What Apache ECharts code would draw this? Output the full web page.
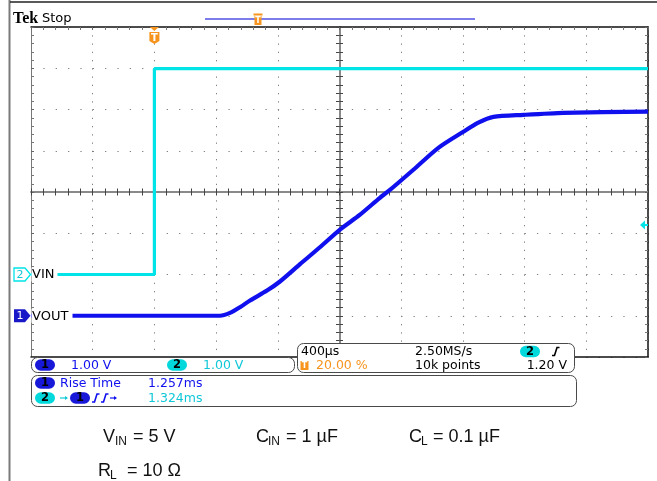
<!DOCTYPE html>
<html><head><meta charset="utf-8">
<script src="https://cdn.jsdelivr.net/npm/echarts@6.0.0/dist/echarts.min.js"></script>
<style>html,body{margin:0;padding:0;background:#fff}#c{width:657px;height:481px}</style>
</head><body><div id="c"></div>
<script>
// Time base (µs): 400 µs/div, 10 divisions, trigger at 20 %
const timeRange = [-800, 3200];
const timeStep = 400;
// CH1 VOUT (V), 1 V/div
const voutTime = [-800, 0, 300, 425, 490, 560, 620, 730, 814, 944, 1073, 1203, 1333, 1462, 1527, 1679, 1841, 2003, 2100, 2198, 2392, 2652, 3200];
const voutVolt = [0, 0, 0, 0, 0.07, 0.22, 0.37, 0.61, 0.83, 1.25, 1.66, 2.09, 2.45, 2.86, 3.05, 3.54, 4.07, 4.46, 4.68, 4.82, 4.87, 4.92, 4.95];
// CH2 VIN (V), 1 V/div
const vinTime = [-800, 0, 0, 3200];
const vinVolt = [0, 0, 4.99, 4.99];
// vertical ranges (divisions in volts) for each channel
const ch1Range = [-1, 7];
const ch2Range = [-2, 6];
const trigLevel = 1.2;
// readouts
const chScale = ['1.00 V', '1.00 V'];
const horizReadout = ['400µs', '2.50MS/s', '10k points', '20.00 %', '1.20 V'];
const measLabels = ['Rise Time', '1.257ms', '1.324ms'];
const chNames = ['VOUT', 'VIN'];
const notes = [['V', 'IN', ' = 5 V'], ['C', 'IN', ' = 1 µF'], ['C', 'L', ' = 0.1 µF'], ['R', 'L', '  = 10 Ω']];

const BLUE = '#1010ee', CYAN = '#00e4e8', ORANGE = '#f7941d', CYANTXT = '#10c8d8';
const FONT = '"DejaVu Sans", sans-serif';
const chart = echarts.init(document.getElementById('c'), null, {renderer: 'canvas'});

const X = {type: 'value', min: timeRange[0], max: timeRange[1], interval: timeStep};
const noLbl = {show: false};
const ghostLbl = {show: true, formatter: () => '', fontSize: 1, margin: 0, color: 'rgba(0,0,0,0)'};
function xAx(extra) {
  return Object.assign({}, X, {axisLabel: noLbl, splitLine: {show: false}, axisTick: {show: false}}, extra);
}
function yAx(r, extra) {
  return Object.assign({type: 'value', min: r[0], max: r[1], interval: 1, axisLabel: noLbl, splitLine: {show: false}, axisTick: {show: false}}, extra);
}
const minorIn = (len, col) => ({show: true, splitNumber: 5, length: len, lineStyle: {color: col, width: 1}});
const tk = (inside, len, col) => ({show: true, inside: inside, length: len, lineStyle: {color: col, width: 1}});

const option = {
  animation: false,
  backgroundColor: '#fff',
  grid: {left: 31, top: 27, width: 617, height: 330, containLabel: false, outerBoundsMode: 'none'},
  xAxis: [
    xAx({position: 'bottom', axisLine: {show: true, onZero: false, lineStyle: {color: '#111', width: 1.5}},
      splitLine: {show: true, lineStyle: {color: '#808080', width: 1, type: [1.3, 6.95]}}}),
    xAx({position: 'top', axisLine: {show: true, onZero: false, lineStyle: {color: '#111', width: 1.5}}, axisLabel: ghostLbl,
      axisTick: tk(true, 3, '#666'), minorTick: minorIn(3, '#777')}),
    xAx({position: 'bottom', offset: -165, axisLine: {show: true, onZero: false, lineStyle: {color: '#8a8a8a', width: 2}}, axisLabel: ghostLbl,
      axisTick: tk(true, 3.5, '#444'), minorTick: minorIn(3.5, '#444')}),
    xAx({position: 'bottom', offset: -165, axisLine: {show: false, onZero: false}, axisLabel: ghostLbl,
      axisTick: tk(false, 3.5, '#444'), minorTick: minorIn(3.5, '#444')})
  ],
  yAxis: [
    yAx(ch1Range, {position: 'left', axisLine: {show: true, onZero: false, lineStyle: {color: '#777', width: 1}}, axisLabel: ghostLbl,
      axisTick: tk(true, 3, '#666'), minorTick: minorIn(3, '#777'),
      splitLine: {show: true, lineStyle: {color: '#808080', width: 1, type: [1.3, 11.04]}}}),
    yAx(ch2Range, {show: false}),
    yAx(ch1Range, {position: 'right', axisLine: {show: true, onZero: false, lineStyle: {color: '#111', width: 1.5}}, axisLabel: ghostLbl,
      axisTick: tk(true, 3, '#666'), minorTick: minorIn(3, '#777')}),
    yAx(ch1Range, {position: 'left', offset: -308.5, axisLine: {show: true, onZero: false, lineStyle: {color: '#8a8a8a', width: 2}}, axisLabel: ghostLbl,
      axisTick: tk(true, 3.5, '#444'), minorTick: minorIn(3.5, '#444')}),
    yAx(ch1Range, {position: 'left', offset: -308.5, axisLine: {show: false, onZero: false}, axisLabel: ghostLbl,
      axisTick: tk(false, 3.5, '#444'), minorTick: minorIn(3.5, '#444')})
  ],
  series: [
    {name: chNames[1], type: 'line', xAxisIndex: 0, yAxisIndex: 1, showSymbol: false, symbol: 'none', z: 3,
      data: vinTime.map((t, i) => [t, vinVolt[i]]), lineStyle: {color: CYAN, width: 3.2}},
    {name: chNames[0], type: 'line', xAxisIndex: 0, yAxisIndex: 0, showSymbol: false, symbol: 'none', z: 4, smooth: 0.25,
      data: voutTime.map((t, i) => [t, voutVolt[i]]), lineStyle: {color: BLUE, width: 4.2}}
  ]
};
chart.setOption(option);

const px = (t, v, yi) => chart.convertToPixel({xAxisIndex: 0, yAxisIndex: yi}, [t, v]);
const Z = 50;
function T(x, y, s, o) {
  return {type: 'text', x: x, y: y, z: Z + 2, style: Object.assign({text: s, fill: '#000', font: '12.5px ' + FONT, align: 'left', verticalAlign: 'middle'}, o || {})};
}
function R(x, y, w, h, o) {
  return {type: 'rect', z: Z, shape: {x: x, y: y, width: w, height: h, r: (o && o.r) || 0}, style: Object.assign({fill: '#fff'}, (o && o.style) || {})};
}
function pill(cx, cy, fill, s, txtCol) {
  return [
    {type: 'rect', z: Z + 1, shape: {x: cx - 10, y: cy - 5.8, width: 20, height: 11.6, r: 5.8}, style: {fill: fill}},
    T(cx, cy + 0.5, s, {align: 'center', fill: txtCol || '#000', font: 'bold 11.5px ' + FONT})
  ];
}
function edge(x, y, col) {
  return {type: 'polyline', z: Z + 2, shape: {points: [[x, y + 4], [x + 2.5, y + 4], [x + 5, y - 4], [x + 7.5, y - 4]]}, style: {stroke: col, lineWidth: 1.6, fill: null}};
}

const g = [];
// frame lines
g.push({type: 'line', z: Z, shape: {x1: 9.5, y1: 0, x2: 9.5, y2: 481}, style: {stroke: '#7a7a7a', lineWidth: 2}});
g.push({type: 'line', z: Z, shape: {x1: 10, y1: 2, x2: 657, y2: 2}, style: {stroke: '#222', lineWidth: 1.5}});
// Tek Stop
g.push(T(13, 19, 'Tek', {font: 'bold 16px "Liberation Serif", serif', fill: '#000'}));
g.push(T(42, 19, 'Stop', {font: '13px ' + FONT}));
// record view bar
g.push({type: 'line', z: Z, shape: {x1: 205, y1: 19, x2: 475, y2: 19}, style: {stroke: '#7c7cea', lineWidth: 2}});
g.push(R(253.5, 13.5, 9, 2, {style: {fill: ORANGE}}));
g.push(R(254.5, 16, 7, 9, {style: {fill: ORANGE}}));
g.push(T(258, 21, 'T', {align: 'center', fill: '#fff', font: 'bold 8px ' + FONT}));

// trigger position marker
const trg = px(0, 0, 1);
const gt = 27;
g.push({type: 'polygon', z: Z, shape: {points: [[trg[0] - 4.5, gt], [trg[0] + 4.5, gt], [trg[0], gt + 4]]}, style: {fill: ORANGE}});
g.push({type: 'polygon', z: Z, shape: {points: [[trg[0] - 5, gt + 5], [trg[0] + 5, gt + 5], [trg[0] + 5, gt + 14], [trg[0], gt + 17], [trg[0] - 5, gt + 14]]}, style: {fill: ORANGE}});
g.push(T(trg[0], gt + 11, 'T', {align: 'center', fill: '#fff', font: 'bold 10px ' + FONT}));

// trigger level arrow on right
const tl = px(timeRange[1], trigLevel, 1);
g.push({type: 'polygon', z: Z, shape: {points: [[tl[0] - 8, tl[1]], [tl[0] - 3, tl[1] - 4.5], [tl[0] - 3, tl[1] + 4.5]]}, style: {fill: CYAN}});
g.push({type: 'line', z: Z, shape: {x1: tl[0] - 4, y1: tl[1], x2: tl[0], y2: tl[1]}, style: {stroke: CYAN, lineWidth: 2}});

// channel ground markers
const c2 = px(timeRange[0], 0, 1);
const c1 = px(timeRange[0], 0, 0);
g.push(R(31.5, c2[1] - 7, 26, 14));
g.push({type: 'polygon', z: Z + 1, shape: {points: [[14, c2[1] - 6.5], [25, c2[1] - 6.5], [30.5, c2[1]], [25, c2[1] + 6.5], [14, c2[1] + 6.5]]}, style: {fill: '#fff', stroke: CYAN, lineWidth: 1.3}});
g.push(T(20, c2[1] + 0.5, '2', {align: 'center', fill: CYANTXT, font: '11px ' + FONT}));
g.push(T(32, c2[1] + 0.5, chNames[1], {font: '13px ' + FONT}));
g.push(R(31.5, c1[1] - 7, 41, 14));
g.push({type: 'polygon', z: Z + 1, shape: {points: [[14, c1[1] - 6.5], [25, c1[1] - 6.5], [30.5, c1[1]], [25, c1[1] + 6.5], [14, c1[1] + 6.5]]}, style: {fill: '#1818c8'}});
g.push(T(20, c1[1] + 0.5, '1', {align: 'center', fill: '#fff', font: '11px ' + FONT}));
g.push(T(32, c1[1] + 0.5, chNames[0], {font: '13px ' + FONT}));

// readout boxes
const boxStyle = {fill: '#fff', stroke: '#4a4a4a', lineWidth: 1};
g.push(R(31.5, 357.5, 263, 15, {r: 6, style: boxStyle}));
g.push(R(297.5, 343.5, 277, 29, {r: 6, style: boxStyle}));
g.push(R(31.5, 375.5, 545, 31, {r: 6, style: boxStyle}));
// box A
g.push(...pill(45, 365, '#1818d8', '1'));
g.push(T(71, 365.5, chScale[0], {fill: BLUE}));
g.push(...pill(177, 365, '#00d8dc', '2'));
g.push(T(203, 365.5, chScale[1], {fill: CYANTXT}));
// box B
g.push(T(301, 352, horizReadout[0]));
g.push(T(415, 352, horizReadout[1]));
g.push(...pill(530, 351.5, '#00d8dc', '2'));
g.push(edge(552, 351.5, '#000'));
g.push(R(300.5, 361, 8, 9, {style: {fill: ORANGE}}));
g.push(T(304.5, 365.8, 'T', {align: 'center', fill: '#fff', font: 'bold 8px ' + FONT}));
g.push(T(316, 366, horizReadout[3], {fill: ORANGE}));
g.push(T(415, 366, horizReadout[2]));
g.push(T(567, 366, horizReadout[4], {align: 'right'}));
// box C
g.push(...pill(45, 383, '#1818d8', '1'));
g.push(T(60, 383.5, measLabels[0], {fill: BLUE}));
g.push(T(148, 383.5, measLabels[1], {fill: BLUE}));
g.push(...pill(45, 398, '#00d8dc', '2'));
g.push({type: 'line', z: Z + 2, shape: {x1: 60, y1: 398, x2: 67, y2: 398}, style: {stroke: CYANTXT, lineWidth: 1.2}});
g.push({type: 'polygon', z: Z + 2, shape: {points: [[68, 398], [65, 396], [65, 400]]}, style: {fill: CYANTXT}});
g.push(...pill(80, 398, '#1818d8', '1'));
g.push(edge(92, 398, BLUE));
g.push(edge(101, 398, BLUE));
g.push({type: 'line', z: Z + 2, shape: {x1: 110, y1: 398, x2: 116, y2: 398}, style: {stroke: BLUE, lineWidth: 1.2}});
g.push({type: 'polygon', z: Z + 2, shape: {points: [[117, 398], [114, 396], [114, 400]]}, style: {fill: BLUE}});
g.push(T(148, 398.5, measLabels[2], {fill: CYANTXT}));

// conditions text
const NF = '"Liberation Sans", Arial, sans-serif';
const notePos = [[103, 437], [256, 437], [409, 437], [98, 471]];
notes.forEach((n, i) => {
  const [x, y] = notePos[i];
  const w0 = 12;
  g.push(T(x, y, n[0], {font: '18px ' + NF, fill: '#111'}));
  g.push(T(x + w0, y + 5, n[1], {font: '12px ' + NF, fill: '#111'}));
  g.push(T(x + w0 + (n[1].length === 2 ? 13 : 7), y, n[2], {font: '18px ' + NF, fill: '#111'}));
});

chart.setOption({graphic: {elements: g}});
</script>
</body></html>
